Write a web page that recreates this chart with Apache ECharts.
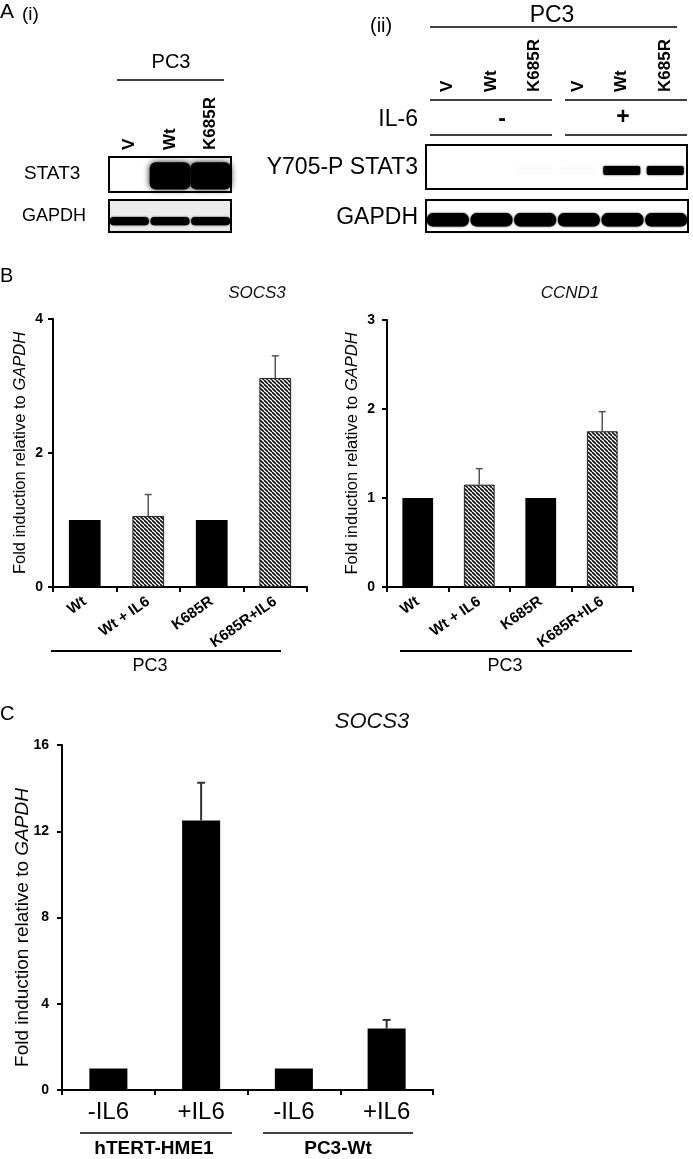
<!DOCTYPE html>
<html>
<head>
<meta charset="utf-8">
<script src="https://cdn.jsdelivr.net/npm/echarts@6/dist/echarts.min.js"></script>
<style>
html,body{margin:0;padding:0;background:#fff;}
#chart{width:693px;height:1159px;}
</style>
</head>
<body>
<div id="chart"></div>
<script>
// ---------- data ----------
const lanesA1 = ['V', 'Wt', 'K685R'];
const stat3BandA1 = [0, 1, 1];
const gapdhBandA1 = [1, 1, 1];
const lanesA2 = ['V', 'Wt', 'K685R', 'V', 'Wt', 'K685R'];
const pstat3BandA2 = [0, 0, 0.012, 0.01, 1, 1];
const gapdhBandA2 = [1, 1, 1, 1, 1, 1];
const il6Status = ['-', '+'];

const bCategories = ['Wt', 'Wt + IL6', 'K685R', 'K685R+IL6'];
const bTreated = [false, true, false, true];
const socs3BValues = [1, 1.06, 1, 3.12];
const socs3BErrors = [0, 0.32, 0, 0.33];
const ccnd1Values = [1, 1.15, 1, 1.75];
const ccnd1Errors = [0, 0.18, 0, 0.22];

const cCategories = ['-IL6', '+IL6', '-IL6', '+IL6'];
const cGroups = ['hTERT-HME1', 'PC3-Wt'];
const socs3CValues = [1, 12.5, 1, 2.85];
const socs3CErrors = [0, 1.75, 0, 0.4];

// ---------- helpers ----------
const FF = '"Liberation Sans", Arial, Helvetica, sans-serif';

function hatchPattern() {
  const s = 4;
  const c = document.createElement('canvas');
  c.width = s; c.height = s;
  const ctx = c.getContext('2d');
  ctx.fillStyle = '#fff';
  ctx.fillRect(0, 0, s, s);
  ctx.strokeStyle = '#111';
  ctx.lineWidth = 1.6;
  for (let k = -s; k <= s; k += s) {
    ctx.beginPath();
    ctx.moveTo(k, 0);
    ctx.lineTo(k + s, s);
    ctx.stroke();
  }
  return { image: c, repeat: 'repeat' };
}
const HATCH = hatchPattern();

function blotSeries(idx, vals, cfg) {
  return {
    type: 'custom', xAxisIndex: idx, yAxisIndex: idx,
    data: vals.map((v, i) => [i, v]),
    renderItem(params, api) {
      const v = api.value(1);
      if (!v) return null;
      const cs = params.coordSys;
      const cx = api.coord([api.value(0), 0])[0];
      const w = api.size([1, 0])[0] * cfg.w;
      const h = cs.height * cfg.h;
      const cy = cs.y + cs.height * cfg.y;
      return {
        type: 'rect',
        shape: { x: cx - w / 2, y: cy - h / 2, width: w, height: h, r: cfg.r },
        style: { fill: 'rgba(0,0,0,' + v + ')', shadowBlur: cfg.blur, shadowColor: 'rgba(0,0,0,' + (v * 0.9) + ')' }
      };
    }
  };
}

function barSeries(idx, vals, treated, width) {
  return {
    type: 'bar', xAxisIndex: idx, yAxisIndex: idx, barWidth: width,
    data: vals.map((v, i) => ({
      value: v,
      itemStyle: treated[i] ? { color: HATCH, borderColor: '#222', borderWidth: 1 } : { color: '#000' }
    })),
    silent: true, z: 2
  };
}

function errSeries(idx, vals, errs, capW, lw, color) {
  return {
    type: 'custom', xAxisIndex: idx, yAxisIndex: idx, z: 3,
    data: vals.map((v, i) => [i, v, errs[i]]),
    renderItem(params, api) {
      const e = api.value(2);
      if (!e) return null;
      const x = api.value(0), v = api.value(1);
      const p0 = api.coord([x, v]);
      const p1 = api.coord([x, v + e]);
      return {
        type: 'group', children: [
          { type: 'line', shape: { x1: p0[0], y1: p0[1], x2: p1[0], y2: p1[1] }, style: { stroke: color, lineWidth: lw } },
          { type: 'line', shape: { x1: p1[0] - capW / 2, y1: p1[1], x2: p1[0] + capW / 2, y2: p1[1] }, style: { stroke: color, lineWidth: lw } }
        ]
      };
    }
  };
}

function blotX(idx, lanes, labelCfg) {
  return {
    type: 'category', gridIndex: idx, data: lanes, position: 'top',
    axisLine: { show: false }, axisTick: { show: false }, splitLine: { show: false },
    axisLabel: labelCfg ? Object.assign({ rotate: 90, fontWeight: 'bold', color: '#000', fontFamily: FF, interval: 0 }, labelCfg) : { show: false }
  };
}
function blotY(idx) {
  return { type: 'value', gridIndex: idx, min: 0, max: 1, show: false, splitLine: { show: false } };
}

const axisLineStyle = { show: true, lineStyle: { color: '#000', width: 2 } };
const tickStyle = { show: true, length: 5, lineStyle: { color: '#000', width: 2 } };

function chartX(idx, cats, labelCfg) {
  return {
    type: 'category', gridIndex: idx, data: cats,
    axisLine: axisLineStyle, axisTick: tickStyle, splitLine: { show: false },
    axisLabel: Object.assign({ interval: 0, color: '#000', fontFamily: FF }, labelCfg)
  };
}
function chartY(idx, max, interval, fs, gap, labelFs, labelMargin, namePad) {
  return {
    type: 'value', gridIndex: idx, min: 0, max: max, interval: interval,
    axisLine: axisLineStyle, axisTick: tickStyle, splitLine: { show: false },
    axisLabel: { color: '#000', fontWeight: 'bold', fontSize: labelFs, fontFamily: FF, margin: labelMargin },
    name: '{a|Fold induction relative to }{b|GAPDH}',
    nameLocation: 'middle',
    nameGap: gap,
    nameMoveOverlap: false,
    nameTextStyle: {
      fontSize: fs, fontFamily: FF, color: '#000',
      padding: namePad || 0,
      rich: {
        a: { fontSize: fs, fontFamily: FF, color: '#000' },
        b: { fontSize: fs, fontFamily: FF, color: '#000', fontStyle: 'italic' }
      }
    }
  };
}

// ---------- graphic texts / lines ----------
function txt(x, y, text, size, opts) {
  opts = opts || {};
  return {
    type: 'text', x: x, y: y, silent: true,
    style: {
      text: text, fill: opts.color || '#000',
      font: (opts.style || 'normal') + ' ' + (opts.weight || 'normal') + ' ' + size + 'px ' + FF,
      align: opts.align || 'center', verticalAlign: 'middle'
    }
  };
}
function ln(x1, y1, x2, y2, w) {
  return { type: 'line', silent: true, shape: { x1, y1, x2, y2 }, style: { stroke: '#000', lineWidth: w || 1.5 } };
}

const graphics = [
  // Panel A (i)
  txt(0, 12, 'A', 21, { align: 'left' }),
  txt(22, 15, '(i)', 19, { align: 'left' }),
  txt(171, 62, 'PC3', 20),
  ln(117, 80, 224, 80),
  txt(24, 174, 'STAT3', 19, { align: 'left' }),
  txt(22, 216, 'GAPDH', 18, { align: 'left' }),
  // Panel A (ii)
  txt(370, 26, '(ii)', 20, { align: 'left' }),
  txt(552, 16, 'PC3', 23),
  ln(430, 27, 677, 27),
  ln(430, 100, 552, 100), ln(565, 100, 687, 100),
  txt(418, 120, 'IL-6', 23, { align: 'right' }),
  txt(502, 120, il6Status[0], 23, { weight: 'bold' }),
  txt(623, 118, il6Status[1], 23, { weight: 'bold' }),
  ln(430, 135, 552, 135), ln(565, 135, 687, 135),
  txt(418, 168, 'Y705-P STAT3', 23, { align: 'right' }),
  txt(418, 218, 'GAPDH', 23, { align: 'right' }),
  // Panel B
  txt(0, 276, 'B', 20, { align: 'left' }),
  txt(257, 293, 'SOCS3', 17, { style: 'italic', color: '#111' }),
  txt(570, 293, 'CCND1', 17, { style: 'italic', color: '#111' }),
  ln(51, 651, 281, 651, 2),
  ln(400, 651, 632, 651, 2),
  txt(150, 666, 'PC3', 18),
  txt(505, 666, 'PC3', 18),
  // Panel C
  txt(0, 714, 'C', 20, { align: 'left' }),
  txt(372, 722, 'SOCS3', 22, { style: 'italic', color: '#111' }),
  ln(80, 1133, 232, 1133, 1.5),
  ln(263, 1133, 413, 1133, 1.5),
  txt(154, 1149, cGroups[0], 19, { weight: 'bold' }),
  txt(338, 1149, cGroups[1], 19, { weight: 'bold' })
];

const gridBase = { outerBoundsMode: 'none', containLabel: false };
const option = {
  backgroundColor: '#fff',
  animation: false,
  grid: [
    { left: 109, top: 157, width: 122, height: 35, show: true, borderColor: '#000', borderWidth: 2, backgroundColor: '#fff' },
    { left: 109, top: 200, width: 122, height: 32, show: true, borderColor: '#000', borderWidth: 2, backgroundColor: '#ebebeb' },
    { left: 426, top: 145, width: 261, height: 44, show: true, borderColor: '#000', borderWidth: 2, backgroundColor: '#fff' },
    { left: 426, top: 200, width: 262, height: 32, show: true, borderColor: '#000', borderWidth: 2, backgroundColor: '#fff' },
    { left: 53, top: 319, width: 254, height: 268 },
    { left: 387, top: 320, width: 246, height: 267 },
    { left: 62, top: 745, width: 371, height: 345 }
  ].map(g => Object.assign({}, gridBase, g)),
  xAxis: [
    blotX(0, lanesA1, { fontSize: 17, margin: 7 }),
    blotX(1, lanesA1, null),
    blotX(2, lanesA2, { fontSize: 17, margin: 53 }),
    blotX(3, lanesA2, null),
    chartX(4, bCategories, { rotate: 35, fontWeight: 'bold', fontSize: 15, margin: 13 }),
    chartX(5, bCategories, { rotate: 35, fontWeight: 'bold', fontSize: 15, margin: 13 }),
    chartX(6, cCategories, { fontSize: 24, margin: 10 })
  ],
  yAxis: [
    blotY(0), blotY(1), blotY(2), blotY(3),
    chartY(4, 4, 2, 16.5, 24, 14, 10),
    chartY(5, 3, 1, 16.5, 26, 14, 12),
    chartY(6, 16, 4, 19, 30, 14, 13, [0, 20, 0, 0])
  ],
  series: [
    blotSeries(0, stat3BandA1, { y: 0.54, h: 0.78, w: 1.0, r: 6, blur: 6 }),
    blotSeries(1, gapdhBandA1, { y: 0.66, h: 0.26, w: 0.96, r: 4, blur: 2 }),
    blotSeries(2, pstat3BandA2, { y: 0.58, h: 0.2, w: 0.85, r: 2, blur: 2 }),
    blotSeries(3, gapdhBandA2, { y: 0.62, h: 0.42, w: 0.96, r: 6, blur: 2 }),
    barSeries(4, socs3BValues, bTreated, '50%'),
    errSeries(4, socs3BValues, socs3BErrors, 7, 1.5, '#555'),
    barSeries(5, ccnd1Values, bTreated, '50%'),
    errSeries(5, ccnd1Values, ccnd1Errors, 7, 1.5, '#555'),
    barSeries(6, socs3CValues, [false, false, false, false], '41%'),
    errSeries(6, socs3CValues, socs3CErrors, 8, 2, '#333')
  ],
  graphic: graphics
};

const chart = echarts.init(document.getElementById('chart'), null, { renderer: 'canvas' });
chart.setOption(option);
</script>
</body>
</html>
